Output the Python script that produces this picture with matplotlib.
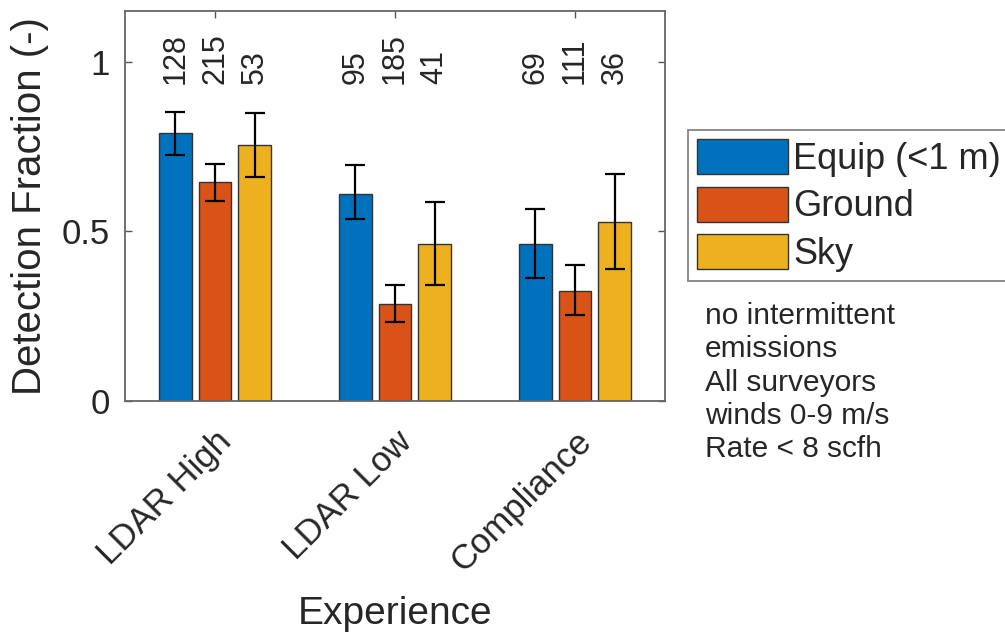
import numpy as np
import matplotlib
matplotlib.use("Agg")
import matplotlib.pyplot as plt

plt.rcParams['font.family'] = ['Liberation Sans', 'DejaVu Sans']

groups = ['LDAR High', 'LDAR Low', 'Compliance']
series = ['Equip (<1 m)', 'Ground', 'Sky']
colors = ['#0072BD', '#D95319', '#EDB120']

# detection fraction per experience group (rows) and leak location (cols)
frac = np.array([
    [0.789, 0.645, 0.754],
    [0.610, 0.286, 0.462],
    [0.462, 0.324, 0.527],
])
err_lo = np.array([
    [0.725, 0.589, 0.660],
    [0.536, 0.233, 0.341],
    [0.363, 0.253, 0.390],
])
err_hi = np.array([
    [0.853, 0.698, 0.848],
    [0.696, 0.341, 0.586],
    [0.565, 0.400, 0.668],
])
counts = [
    [128, 215, 53],
    [95, 185, 41],
    [69, 111, 36],
]

note = "no intermittent\nemissions\nAll surveyors\nwinds 0-9 m/s\nRate < 8 scfh"

txt = '#262626'
fig = plt.figure(figsize=(10.05, 6.37), dpi=100)
ax = fig.add_axes([125 / 1005, 1 - 401 / 637, 540 / 1005, 390 / 637])

x = np.arange(1, len(groups) + 1)
width = 0.18
offsets = [-0.22, 0.0, 0.22]

handles = []
for j, name in enumerate(series):
    xs = x + offsets[j]
    vals = frac[:, j]
    b = ax.bar(xs, vals, width, color=colors[j], edgecolor='#333333',
               linewidth=1.0, label=name, zorder=2)
    handles.append(b)
    yerr = np.vstack([vals - err_lo[:, j], err_hi[:, j] - vals])
    ax.errorbar(xs, vals, yerr=yerr, fmt='none', ecolor='black',
                elinewidth=1.6, capsize=7, capthick=1.6, zorder=3)
    for xi, n in zip(xs, [c[j] for c in counts]):
        ax.text(xi, 0.935, str(n), rotation=90, ha='center', va='bottom',
                fontsize=22, color=txt)

ax.set_xlim(0.5, 3.5)
ax.set_ylim(0, 1.15)
ax.set_yticks([0, 0.5, 1])
ax.set_yticklabels(['0', '0.5', '1'])
ax.set_xticks(x)
ax.set_xticklabels(groups, rotation=45, ha='right', rotation_mode='anchor',
                   fontsize=25, color=txt)
ax.tick_params(axis='y', labelsize=25, labelcolor=txt, pad=11)
ax.tick_params(direction='in', top=True, right=True, length=5,
               color='#555555', width=1.0)
ax.tick_params(axis='x', pad=17)
for s in ax.spines.values():
    s.set_color('#666666')
    s.set_linewidth(1.3)

ax.set_ylabel('Detection Fraction (-)', fontsize=29, color=txt)
ax.yaxis.set_label_coords(-0.14, 0.5)
fig.text(395 / 1005, 1 - 614 / 637, 'Experience', fontsize=28, color=txt,
         ha='center', va='center')

leg = fig.legend(handles=handles, labels=series, loc='upper left',
                 bbox_to_anchor=(688 / 1005, 1 - 130 / 637), fontsize=26,
                 handlelength=2.52, handleheight=1.12, labelspacing=0.27,
                 handletextpad=0.15, borderpad=0.25, borderaxespad=0,
                 frameon=True, fancybox=False)
leg.get_frame().set_edgecolor('#666666')
leg.get_frame().set_linewidth(1.3)
for t in leg.get_texts():
    t.set_color(txt)

fig.text(705 / 1005, 1 - 302 / 637, note, fontsize=21.5, color=txt,
         ha='left', va='top', linespacing=1.24)

fig.savefig('out.png', dpi=100)
